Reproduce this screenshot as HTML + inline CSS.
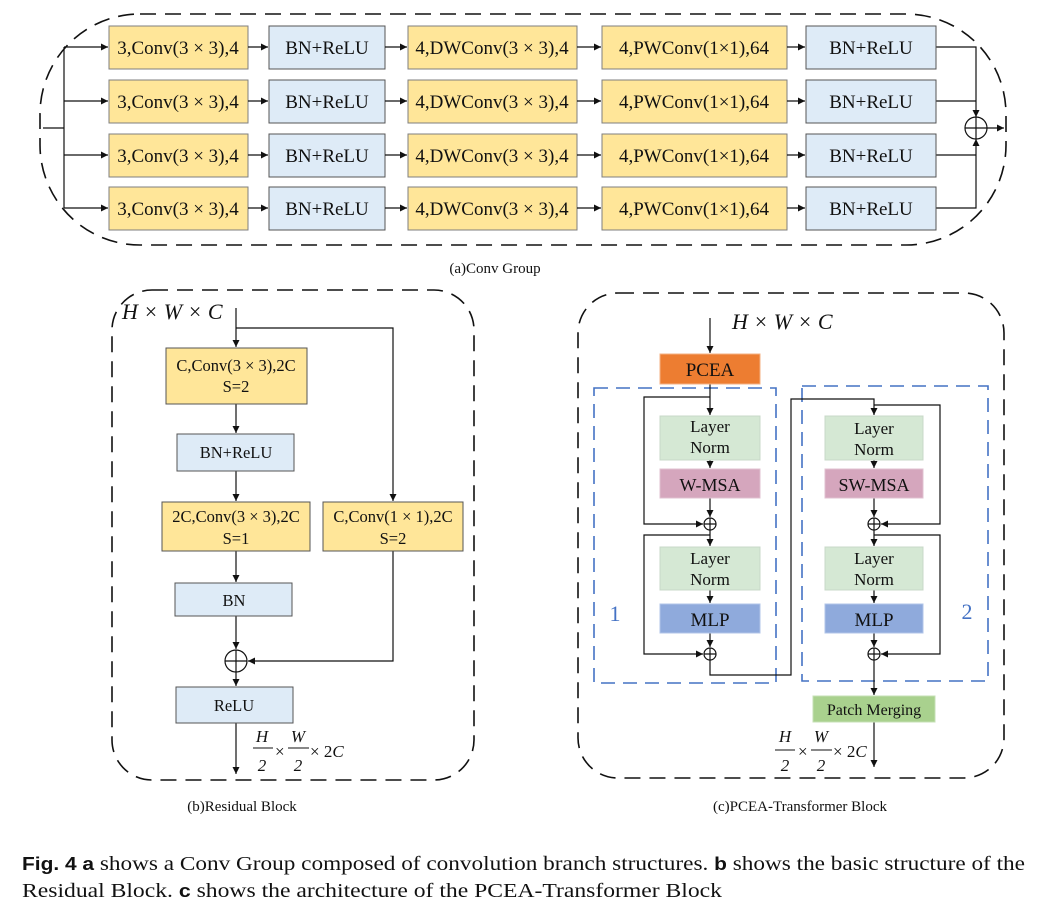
<!DOCTYPE html>
<html><head><meta charset="utf-8"><style>
body{margin:0;background:#fff}
svg{display:block}
text{font-family:"Liberation Serif",serif;fill:#111}
</style></head><body>
<svg width="1043" height="921" viewBox="0 0 1043 921" xmlns="http://www.w3.org/2000/svg">
<defs>
<marker id="a" viewBox="0 0 10 10" refX="10" refY="5" markerWidth="7" markerHeight="7" orient="auto" markerUnits="userSpaceOnUse"><path d="M0,0L10,5L0,10z" fill="#111"/></marker>
</defs>
<g fill="none" stroke="#111" stroke-width="1.6" stroke-dasharray="16,9">
<rect x="40" y="14" width="966" height="231" rx="100" ry="100"/>
<rect x="112" y="290" width="362" height="490" rx="40"/>
<rect x="578" y="293" width="426" height="485" rx="40"/>
</g>
<g fill="none" stroke="#4472C4" stroke-width="1.6" stroke-dasharray="14,8">
<rect x="594" y="388" width="182" height="295"/>
<rect x="802" y="386" width="186" height="295"/>
</g>
<!-- Conv group -->
<g stroke="#111" stroke-width="1.2" fill="none">
<path d="M43,128H64M64,47V208"/>
<path d="M64,47H108" marker-end="url(#a)"/>
<path d="M64,101H108" marker-end="url(#a)"/>
<path d="M64,155H108" marker-end="url(#a)"/>
<path d="M64,208H108" marker-end="url(#a)"/>
<path d="M936,47H976V117" marker-end="url(#a)"/>
<path d="M936,208H976V139" marker-end="url(#a)"/>
<path d="M936,101H976M936,155H976"/>
<circle cx="976" cy="128" r="11"/>
<path d="M965,128H987M976,117V139"/>
<path d="M987,128H1004" marker-end="url(#a)"/>
</g>
<g font-size="19">
<g>
<rect x="109" y="26" width="139" height="43" fill="#FFE699" stroke="#7f7f7f"/>
<rect x="269" y="26" width="116" height="43" fill="#DEEBF7" stroke="#555"/>
<rect x="408" y="26" width="169" height="43" fill="#FFE699" stroke="#7f7f7f"/>
<rect x="602" y="26" width="185" height="43" fill="#FFE699" stroke="#7f7f7f"/>
<rect x="806" y="26" width="130" height="43" fill="#DEEBF7" stroke="#555"/>
</g>
<g>
<rect x="109" y="80" width="139" height="43" fill="#FFE699" stroke="#7f7f7f"/>
<rect x="269" y="80" width="116" height="43" fill="#DEEBF7" stroke="#555"/>
<rect x="408" y="80" width="169" height="43" fill="#FFE699" stroke="#7f7f7f"/>
<rect x="602" y="80" width="185" height="43" fill="#FFE699" stroke="#7f7f7f"/>
<rect x="806" y="80" width="130" height="43" fill="#DEEBF7" stroke="#555"/>
</g>
<g>
<rect x="109" y="134" width="139" height="43" fill="#FFE699" stroke="#7f7f7f"/>
<rect x="269" y="134" width="116" height="43" fill="#DEEBF7" stroke="#555"/>
<rect x="408" y="134" width="169" height="43" fill="#FFE699" stroke="#7f7f7f"/>
<rect x="602" y="134" width="185" height="43" fill="#FFE699" stroke="#7f7f7f"/>
<rect x="806" y="134" width="130" height="43" fill="#DEEBF7" stroke="#555"/>
</g>
<g>
<rect x="109" y="187" width="139" height="43" fill="#FFE699" stroke="#7f7f7f"/>
<rect x="269" y="187" width="116" height="43" fill="#DEEBF7" stroke="#555"/>
<rect x="408" y="187" width="169" height="43" fill="#FFE699" stroke="#7f7f7f"/>
<rect x="602" y="187" width="185" height="43" fill="#FFE699" stroke="#7f7f7f"/>
<rect x="806" y="187" width="130" height="43" fill="#DEEBF7" stroke="#555"/>
</g>
<g stroke="#111" stroke-width="1.2" marker-end="url(#a)">
<line x1="248" y1="47" x2="268" y2="47"/><line x1="385" y1="47" x2="407" y2="47"/><line x1="577" y1="47" x2="601" y2="47"/><line x1="787" y1="47" x2="805" y2="47"/>
<line x1="248" y1="101" x2="268" y2="101"/><line x1="385" y1="101" x2="407" y2="101"/><line x1="577" y1="101" x2="601" y2="101"/><line x1="787" y1="101" x2="805" y2="101"/>
<line x1="248" y1="155" x2="268" y2="155"/><line x1="385" y1="155" x2="407" y2="155"/><line x1="577" y1="155" x2="601" y2="155"/><line x1="787" y1="155" x2="805" y2="155"/>
<line x1="248" y1="208" x2="268" y2="208"/><line x1="385" y1="208" x2="407" y2="208"/><line x1="577" y1="208" x2="601" y2="208"/><line x1="787" y1="208" x2="805" y2="208"/>
</g>
<g text-anchor="middle">
<text x="178" y="54">3,Conv(3 × 3),4</text><text x="327" y="54">BN+ReLU</text><text x="492" y="54">4,DWConv(3 × 3),4</text><text x="694" y="54">4,PWConv(1×1),64</text><text x="871" y="54">BN+ReLU</text>
<text x="178" y="108">3,Conv(3 × 3),4</text><text x="327" y="108">BN+ReLU</text><text x="492" y="108">4,DWConv(3 × 3),4</text><text x="694" y="108">4,PWConv(1×1),64</text><text x="871" y="108">BN+ReLU</text>
<text x="178" y="162">3,Conv(3 × 3),4</text><text x="327" y="162">BN+ReLU</text><text x="492" y="162">4,DWConv(3 × 3),4</text><text x="694" y="162">4,PWConv(1×1),64</text><text x="871" y="162">BN+ReLU</text>
<text x="178" y="215">3,Conv(3 × 3),4</text><text x="327" y="215">BN+ReLU</text><text x="492" y="215">4,DWConv(3 × 3),4</text><text x="694" y="215">4,PWConv(1×1),64</text><text x="871" y="215">BN+ReLU</text>
</g>
</g>
<text x="495" y="273" font-size="15" text-anchor="middle">(a)Conv Group</text>
<!-- Residual -->
<g stroke="#111" stroke-width="1.2" fill="none">
<g marker-end="url(#a)">
<line x1="236" y1="308" x2="236" y2="347"/>
<line x1="236" y1="404" x2="236" y2="433"/>
<line x1="236" y1="471" x2="236" y2="501"/>
<line x1="236" y1="551" x2="236" y2="582"/>
<line x1="236" y1="616" x2="236" y2="649"/>
<line x1="236" y1="672" x2="236" y2="686"/>
<line x1="236" y1="723" x2="236" y2="774"/>
</g>
<path d="M236,328H393V501" marker-end="url(#a)"/>
<path d="M393,551V661H248" marker-end="url(#a)"/>
<circle cx="236" cy="661" r="11"/><path d="M225,661H247M236,650V672"/>
</g>
<rect x="166" y="348" width="141" height="56" fill="#FFE699" stroke="#555"/>
<rect x="177" y="434" width="117" height="37" fill="#DEEBF7" stroke="#555"/>
<rect x="162" y="502" width="148" height="49" fill="#FFE699" stroke="#555"/>
<rect x="323" y="502" width="140" height="49" fill="#FFE699" stroke="#555"/>
<rect x="175" y="583" width="117" height="33" fill="#DEEBF7" stroke="#555"/>
<rect x="176" y="687" width="117" height="36" fill="#DEEBF7" stroke="#555"/>
<g font-size="16.5" text-anchor="middle">
<text x="236" y="371">C,Conv(3 × 3),2C</text><text x="236" y="392">S=2</text>
<text x="236" y="458">BN+ReLU</text>
<text x="236" y="522">2C,Conv(3 × 3),2C</text><text x="236" y="544">S=1</text>
<text x="393" y="522">C,Conv(1 × 1),2C</text><text x="393" y="544">S=2</text>
<text x="234" y="606">BN</text>
<text x="234" y="711">ReLU</text>
</g>
<text x="122" y="319" font-size="22" font-style="italic">H × W × C</text>
<g font-size="17" font-style="italic">
<text x="262" y="742" text-anchor="middle">H</text><text x="262" y="771" text-anchor="middle">2</text>
<text x="298" y="742" text-anchor="middle">W</text><text x="298" y="771" text-anchor="middle">2</text>
<text x="275" y="757" font-style="normal">×</text><text x="310" y="757"><tspan font-style="normal">× 2</tspan>C</text>
</g>
<path d="M253,748H273M288,748H309" stroke="#111" stroke-width="1"/>
<text x="242" y="811" font-size="15" text-anchor="middle">(b)Residual Block</text>
<!-- Transformer -->
<g stroke="#111" stroke-width="1.2" fill="none">
<g marker-end="url(#a)">
<line x1="710" y1="318" x2="710" y2="353"/>
<line x1="710" y1="384" x2="710" y2="415"/>
<line x1="710" y1="460" x2="710" y2="468"/>
<line x1="710" y1="498" x2="710" y2="517"/>
<line x1="710" y1="530" x2="710" y2="546"/>
<line x1="710" y1="590" x2="710" y2="603"/>
<line x1="710" y1="633" x2="710" y2="647"/>
<line x1="874" y1="460" x2="874" y2="468"/>
<line x1="874" y1="498" x2="874" y2="517"/>
<line x1="874" y1="530" x2="874" y2="546"/>
<line x1="874" y1="590" x2="874" y2="603"/>
<line x1="874" y1="633" x2="874" y2="647"/>
<line x1="874" y1="660" x2="874" y2="695"/>
<line x1="874" y1="722" x2="874" y2="767"/>
</g>
<path d="M710,397H644V524H703" marker-end="url(#a)"/>
<path d="M710,535H644V654H703" marker-end="url(#a)"/>
<path d="M710,660V675H791V399H874V415" marker-end="url(#a)"/>
<path d="M874,405H940V524H881" marker-end="url(#a)"/>
<path d="M874,535H940V654H881" marker-end="url(#a)"/>
<circle cx="710" cy="524" r="6"/><path d="M704,524H716M710,518V530"/>
<circle cx="710" cy="654" r="6"/><path d="M704,654H716M710,648V660"/>
<circle cx="874" cy="524" r="6"/><path d="M868,524H880M874,518V530"/>
<circle cx="874" cy="654" r="6"/><path d="M868,654H880M874,648V660"/>
</g>
<rect x="660" y="354" width="100" height="30" fill="#ED7D31" stroke="#F4B183"/>
<rect x="660" y="416" width="100" height="44" fill="#D5E8D4" stroke="#c8d8c8"/>
<rect x="660" y="469" width="100" height="29" fill="#D5A6BD" stroke="#e0c0d0"/>
<rect x="660" y="547" width="100" height="43" fill="#D5E8D4" stroke="#c8d8c8"/>
<rect x="660" y="604" width="100" height="29" fill="#8FAADC" stroke="#b0c4e8"/>
<rect x="825" y="416" width="98" height="44" fill="#D5E8D4" stroke="#c8d8c8"/>
<rect x="825" y="469" width="98" height="29" fill="#D5A6BD" stroke="#e0c0d0"/>
<rect x="825" y="547" width="98" height="43" fill="#D5E8D4" stroke="#c8d8c8"/>
<rect x="825" y="604" width="98" height="29" fill="#8FAADC" stroke="#b0c4e8"/>
<rect x="813" y="696" width="122" height="26" fill="#A9D18E" stroke="#c5e0b4"/>
<g text-anchor="middle" font-size="17">
<text x="710" y="376" font-size="19">PCEA</text>
<text x="710" y="432">Layer</text><text x="710" y="453">Norm</text>
<text x="710" y="491" font-size="18">W-MSA</text>
<text x="710" y="564">Layer</text><text x="710" y="585">Norm</text>
<text x="710" y="626" font-size="19">MLP</text>
<text x="874" y="434">Layer</text><text x="874" y="455">Norm</text>
<text x="874" y="491" font-size="18">SW-MSA</text>
<text x="874" y="564">Layer</text><text x="874" y="585">Norm</text>
<text x="874" y="626" font-size="19">MLP</text>
<text x="874" y="715" font-size="16">Patch Merging</text>
<text x="615" y="621" font-size="22" style="fill:#4472C4">1</text>
<text x="967" y="619" font-size="22" style="fill:#4472C4">2</text>
</g>
<text x="732" y="329" font-size="22" font-style="italic">H × W × C</text>
<g font-size="17" font-style="italic">
<text x="785" y="742" text-anchor="middle">H</text><text x="785" y="771" text-anchor="middle">2</text>
<text x="821" y="742" text-anchor="middle">W</text><text x="821" y="771" text-anchor="middle">2</text>
<text x="798" y="757" font-style="normal">×</text><text x="833" y="757"><tspan font-style="normal">× 2</tspan>C</text>
</g>
<path d="M775,750H795M811,750H832" stroke="#111" stroke-width="1"/>
<text x="800" y="811" font-size="15" text-anchor="middle">(c)PCEA-Transformer Block</text>
<text x="22" y="870" font-size="20" textLength="1003" lengthAdjust="spacingAndGlyphs"><tspan font-family="Liberation Sans" font-weight="bold" font-size="18">Fig. 4 a</tspan> shows a Conv Group composed of convolution branch structures. <tspan font-family="Liberation Sans" font-weight="bold" font-size="18">b</tspan> shows the basic structure of the</text>
<text x="22" y="897" font-size="20" textLength="700" lengthAdjust="spacingAndGlyphs">Residual Block. <tspan font-family="Liberation Sans" font-weight="bold" font-size="18">c</tspan> shows the architecture of the PCEA-Transformer Block</text>
</svg>
</body></html>
